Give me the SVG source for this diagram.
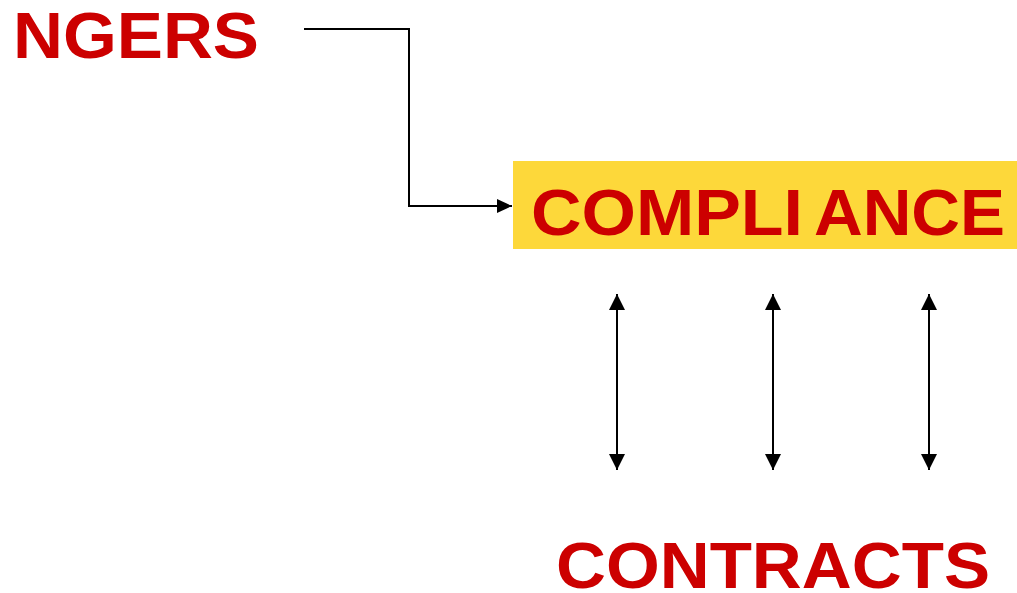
<svg xmlns="http://www.w3.org/2000/svg" width="1017" height="593" viewBox="0 0 1017 593">
<style>
.lbl{font-family:"Liberation Sans",Arial,sans-serif;font-weight:bold;font-size:64px;fill:#cc0000}
.conn{fill:none;stroke:#000;stroke-width:2}
</style>
<defs>
<marker id="ah" viewBox="0 0 16 16" refX="16" refY="8" markerWidth="16" markerHeight="16" markerUnits="userSpaceOnUse" orient="auto-start-reverse">
<path d="M0,0 L16,8 L0,16 Z" fill="#000"/>
</marker>
<marker id="ahr" viewBox="0 0 15 14" refX="15" refY="7" markerWidth="15" markerHeight="14" markerUnits="userSpaceOnUse" orient="auto">
<path d="M0,0 L15,7 L0,14 Z" fill="#000"/>
</marker>
</defs>
<rect width="1017" height="593" fill="#fff"/>
<g id="ngers">
<text class="lbl" x="13" y="57.5" textLength="246" lengthAdjust="spacingAndGlyphs">NGERS</text>
</g>
<g id="compliance">
<rect x="513" y="161" width="504" height="88" fill="#fdd83a"/>
<text class="lbl" x="531" y="235" textLength="272" lengthAdjust="spacingAndGlyphs">COMPLI</text>
<text class="lbl" x="814" y="235" textLength="191" lengthAdjust="spacingAndGlyphs">ANCE</text>
</g>
<g id="contracts">
<text class="lbl" x="556" y="588" textLength="434" lengthAdjust="spacingAndGlyphs">CONTRACTS</text>
</g>
<g id="connectors">
<polyline class="conn" points="304,29 409,29 409,206 512,206" marker-end="url(#ahr)"/>
<line class="conn" x1="617" y1="294" x2="617" y2="470" marker-start="url(#ah)" marker-end="url(#ah)"/>
<line class="conn" x1="773" y1="294" x2="773" y2="470" marker-start="url(#ah)" marker-end="url(#ah)"/>
<line class="conn" x1="929" y1="294" x2="929" y2="470" marker-start="url(#ah)" marker-end="url(#ah)"/>
</g>
</svg>
